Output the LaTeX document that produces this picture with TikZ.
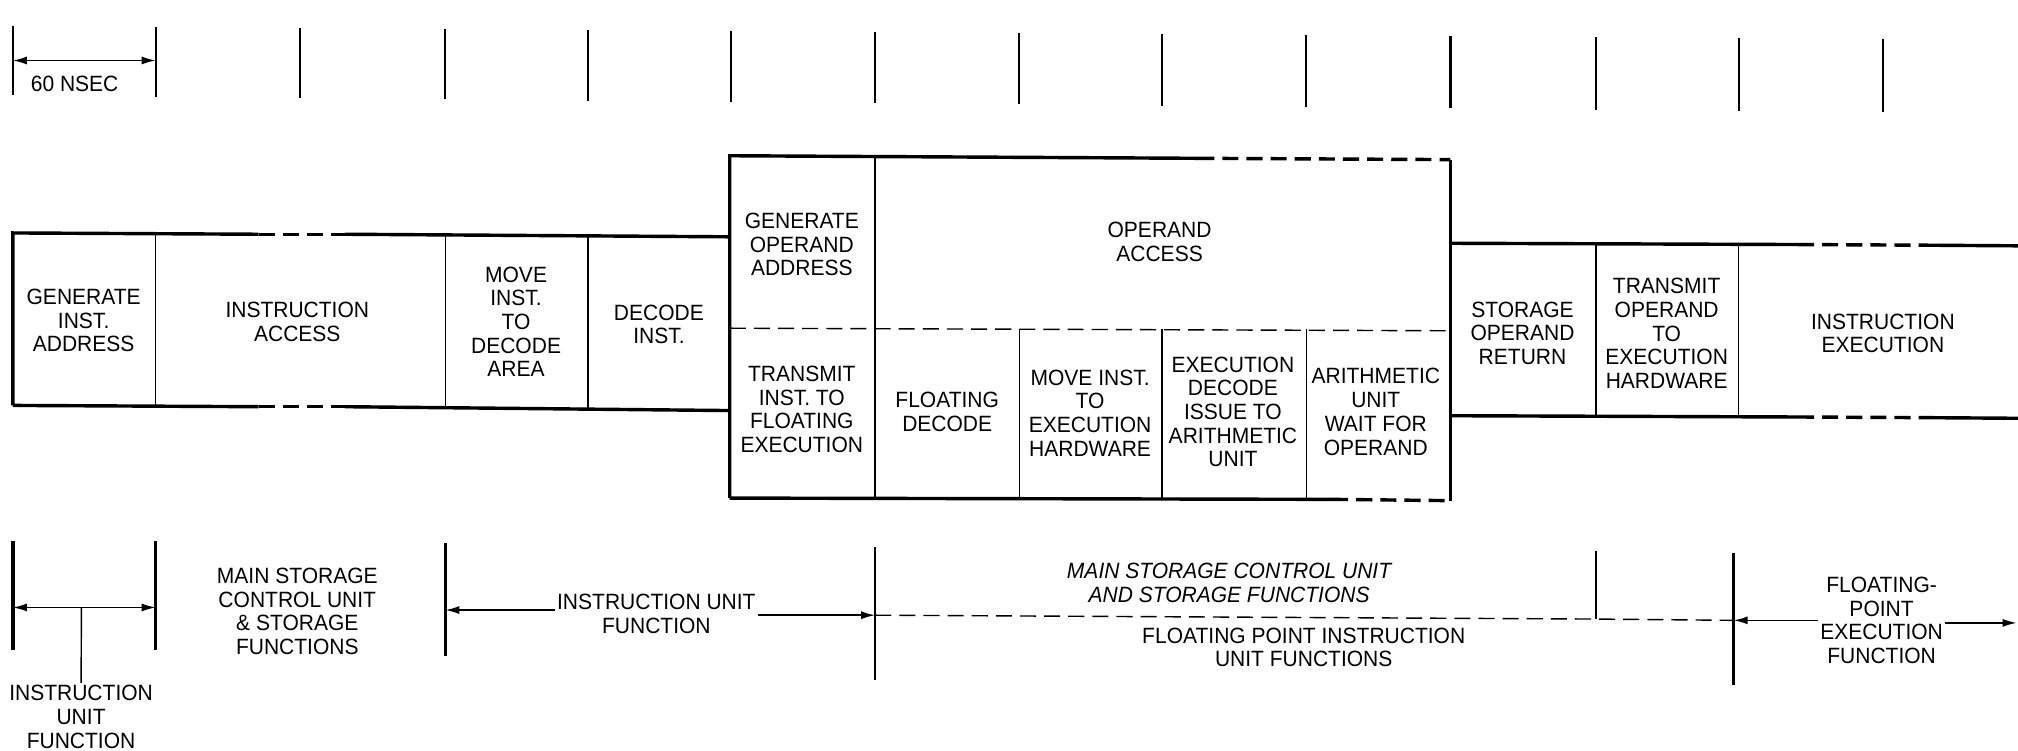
\documentclass[tikz,border=0pt]{standalone}
\usepackage{fontspec}
\setmainfont{Liberation Sans}[FakeStretch=0.95]
\usetikzlibrary{arrows.meta,calc}
\tikzset{
    heavy/.style={line width=1.7pt},
    light/.style={line width=0.7pt},
    midline/.style={line width=1.1pt},
    brk/.style={dash pattern=on 8pt off 4pt},
    lbl/.style={align=center, inner sep=1pt, font=\fontsize{11}{11.8}\selectfont},
    arr/.style={line width=0.8pt, -{Latex[length=7pt,width=4pt]}},
    dim/.style={line width=0.8pt, {Latex[length=7pt,width=4pt]}-{Latex[length=7pt,width=4pt]}},
}
\begin{document}
\begin{tikzpicture}[x=0.64pt, y=-0.64pt]
    \useasboundingbox (0,0) rectangle (1568,583);
    % clock ticks
    \foreach \x [count=\i] in {10,121,233,346,457,568,680,792,903,1015,1127,1240,1351,1463} {
        \pgfmathsetmacro{\ya}{20+0.007*\x}
        \pgfmathsetmacro{\yb}{74+0.009*\x}
        \draw[midline] (\x,\ya) coordinate (t\i) -- (\x,\yb);
    }
    \coordinate (na) at (10,47);
    \coordinate (nb) at (121,47);
    \draw[dim] (na) -- (nb);
    \node[lbl] (nsec) at (58,65) {60 NSEC};

    % instruction fetch and decode
    \draw[heavy] (10,315) -- (10,181) -- (201,182);
    \draw[heavy, brk] (201,182) -- (268,182);
    \draw[heavy] (268,182) -- (567,184);
    \draw[heavy] (10,315) -- (201,316);
    \draw[heavy, brk] (201,316) -- (268,316);
    \draw[heavy] (268,316) -- (567,319);
    \foreach \x in {121,346,457}
        \draw[light] (\x,182) -- (\x,317);
    \node[lbl] (gia) at (65,249) {GENERATE\\INST.\\ADDRESS};
    \node[lbl] (ia) at (231,250) {INSTRUCTION\\ACCESS};
    \node[lbl] (mv) at (401,250) {MOVE\\INST.\\TO\\DECODE\\AREA};
    \node[lbl] (di) at (512,252) {DECODE\\INST.};

    % operand fetch
    \draw[heavy] (567,387) -- (567,121) -- (931,123);
    \draw[heavy, brk] (931,123) -- (1127,124);
    \draw[heavy] (567,387) -- (1035,388);
    \draw[heavy, brk] (1035,388) -- (1127,389);
    \draw[heavy] (1127,124) -- (1127,389);
    \draw[light, brk] (567,255) -- (1127,257);
    \draw[light] (680,122) -- (680,388);
    \foreach \x in {792,903,1015}
        \draw[light] (\x,256) -- (\x,388);
    \node[lbl] (goa) at (623,190) {GENERATE\\OPERAND\\ADDRESS};
    \node[lbl] (oa) at (901,188) {OPERAND\\ACCESS};
    \node[lbl] (tif) at (623,318) {TRANSMIT\\INST. TO\\FLOATING\\EXECUTION};
    \node[lbl] (fd) at (736,320) {FLOATING\\DECODE};
    \node[lbl] (mie) at (847,321) {MOVE INST.\\TO\\EXECUTION\\HARDWARE};
    \node[lbl] (edi) at (958,320) {EXECUTION\\DECODE\\ISSUE TO\\ARITHMETIC\\UNIT};
    \node[lbl] (au) at (1069,320) {ARITHMETIC\\UNIT\\WAIT FOR\\OPERAND};

    % execution
    \draw[heavy] (1127,189) -- (1397,190);
    \draw[heavy, brk] (1397,190) -- (1495,190.5);
    \draw[heavy] (1495,190.5) -- (1568,191);
    \draw[heavy] (1127,323) -- (1397,324);
    \draw[heavy, brk] (1397,324) -- (1495,324.5);
    \draw[heavy] (1495,324.5) -- (1568,325);
    \foreach \x in {1240,1351}
        \draw[light] (\x,190) -- (\x,324);
    \node[lbl] (sor) at (1183,259) {STORAGE\\OPERAND\\RETURN};
    \node[lbl] (toe) at (1295,259) {TRANSMIT\\OPERAND\\TO\\EXECUTION\\HARDWARE};
    \node[lbl] (ie) at (1463,259) {INSTRUCTION\\EXECUTION};

    % functional units
    \draw[heavy] (10,420) -- (10,505);
    \draw[heavy] (121,420) -- (121,505);
    \draw[heavy] (346,422) -- (346,510);
    \draw[midline] (680,425) -- (680,528);
    \draw[heavy] (1347,430) -- (1347,532);
    \coordinate (ua) at (10,472);
    \coordinate (ub) at (121,472);
    \draw[dim] (ua) -- (ub);
    \node[lbl] (iuf1) at (63,557) {INSTRUCTION\\UNIT\\FUNCTION};
    \draw[light] ($(ua)!0.48!(ub)$) -- (iuf1.north);
    \node[lbl] (msc) at (231,475) {MAIN STORAGE\\CONTROL UNIT\\\& STORAGE\\FUNCTIONS};
    \coordinate (b3) at (346,474);
    \coordinate (b4) at (680,478);
    \node[lbl] (iuf2) at (510,477) {INSTRUCTION UNIT\\FUNCTION};
    \draw[arr] (iuf2.west |- b3) -- (b3);
    \draw[arr] (iuf2.east |- b4) -- (b4);
    \coordinate (s1) at (1240,428);
    \coordinate (s2) at (1240,481);
    \coordinate (b5) at (1347,482);
    \draw[midline] (s1) -- (s2);
    \draw[light, brk] (b4) -- (s2) -- (b5);
    \node[lbl, font=\fontsize{11}{11.8}\selectfont\itshape] (msf) at (955,453) {MAIN STORAGE CONTROL UNIT\\AND STORAGE FUNCTIONS};
    \node[lbl] (fpi) at (1013,503) {FLOATING POINT INSTRUCTION\\UNIT FUNCTIONS};
    \node[lbl] (fpe) at (1462,482) {FLOATING-\\POINT\\EXECUTION\\FUNCTION};
    \coordinate (b6) at (1567,484);
    \draw[arr] (fpe.west |- b5) -- (b5);
    \draw[arr] (fpe.east |- b6) -- (b6);
\end{tikzpicture}
\end{document}
